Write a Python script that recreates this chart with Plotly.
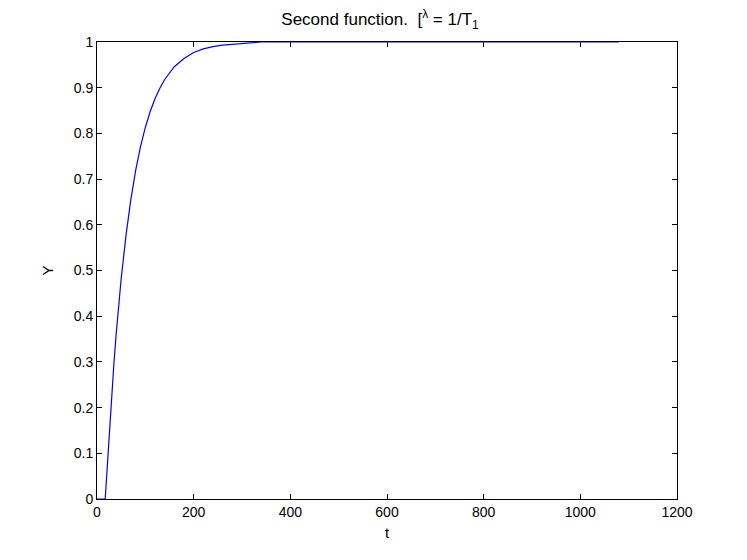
import plotly.graph_objects as go

# Data
t_values = [0, 17, 20, 25, 30, 35, 40, 50, 60, 70, 80, 90, 100, 110, 120, 130,
            140, 150, 160, 180, 200, 220, 240, 260, 280, 300, 320, 340, 1080]
y_values = [0, 0, 0.050, 0.140, 0.222, 0.297, 0.365, 0.482, 0.577, 0.655, 0.719,
            0.771, 0.813, 0.848, 0.876, 0.899, 0.918, 0.933, 0.946, 0.964, 0.977,
            0.985, 0.990, 0.993, 0.995, 0.997, 0.998, 1.0, 1.0]

x_ticks = [0, 200, 400, 600, 800, 1000, 1200]
y_ticks = [0, 0.1, 0.2, 0.3, 0.4, 0.5, 0.6, 0.7, 0.8, 0.9, 1]
y_tick_text = ["0", "0.1", "0.2", "0.3", "0.4", "0.5", "0.6", "0.7", "0.8", "0.9", "1"]

title_text = "Second function.&nbsp;&nbsp;[<sup>λ</sup> = 1/T<sub>1</sub>"

FONT = "Liberation Sans, Arial, sans-serif"

fig = go.Figure()
fig.add_trace(go.Scatter(
    x=t_values, y=y_values, mode="lines",
    line=dict(color="#0000ff", width=1.2),
    showlegend=False, hoverinfo="skip", cliponaxis=False,
))

axis_common = dict(
    showline=True, linecolor="black", linewidth=1, mirror="ticks",
    ticks="inside", ticklen=5, tickcolor="black", tickwidth=1,
    showgrid=False, zeroline=False,
    tickfont=dict(family=FONT, size=14, color="black"),
    layer="below traces",
)

fig.update_layout(
    width=739, height=552,
    paper_bgcolor="white", plot_bgcolor="white",
    margin=dict(l=89, r=70, t=34, b=61, autoexpand=False),
    title=dict(text=title_text, x=0.5 - 7 / 580, xref="paper", xanchor="center",
               y=1 - 11.5 / 552, yref="container", yanchor="middle",
               font=dict(family=FONT, size=17, color="black")),
    xaxis=dict(range=[0, 1200], tickvals=x_ticks, ticktext=[str(v) for v in x_ticks],
               title=dict(text="t", font=dict(family=FONT, size=15, color="black"), standoff=8),
               **axis_common),
    yaxis=dict(range=[0, 1], tickvals=y_ticks, ticktext=y_tick_text,
               title=dict(text="Y", font=dict(family=FONT, size=15, color="black"), standoff=16),
               **axis_common),
)

fig.write_html("out.html")
